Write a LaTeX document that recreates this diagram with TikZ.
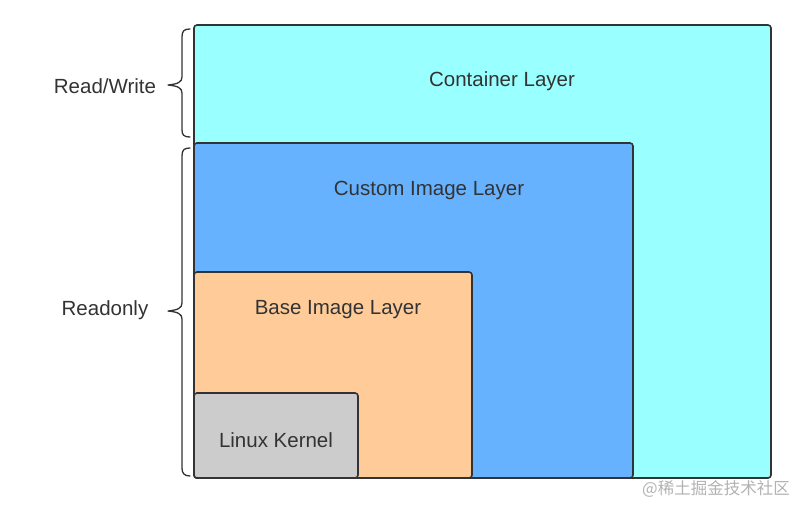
\documentclass[tikz,border=0pt]{standalone}
\usepackage{fontspec}
\setmainfont{Liberation Sans}
\newfontfamily\cjkfont{Noto Sans CJK SC}
\begin{document}
\begin{tikzpicture}[x=1pt,y=-1pt,
  layer/.style={draw=black!80, line width=1.6pt, rounded corners=3pt},
  lbl/.style={text=black!80, font=\fontsize{20.5}{22}\selectfont, inner sep=0pt},
  bracel/.style={draw=black!80, line width=1.3pt, line cap=round, line join=round}]
\useasboundingbox (0,0) rectangle (796,504);
\definecolor{ccyan}{HTML}{99FFFF}
\definecolor{cblue}{HTML}{66B2FF}
\definecolor{corange}{HTML}{FFCC99}
\definecolor{cgray}{HTML}{CCCCCC}
% layers
\path[layer, fill=ccyan] (194,25) rectangle (771,478);
\path[layer, fill=cblue] (194,143) rectangle (633,478);
\path[layer, fill=corange] (194,272) rectangle (472,478);
\path[layer, fill=cgray] (194,393) rectangle (358,478);
% labels
\node[lbl] (container) at (502,81) {Container Layer};
\node[lbl] (custom) at (429,190) {Custom Image Layer};
\node[lbl] (base) at (338,310) {Base Image Layer};
\node[lbl] (kernel) at (276,440) {Linux Kernel};
\node[lbl] (rw) at (105,86) {Read/Write};
\node[lbl] (ro) at (105,310) {Readonly};
% braces
\draw[bracel] (190,29) .. controls (184,29) and (182,31) .. (182,37)
  -- (182,77) .. controls (182,82) and (178,84) .. (168,85)
  .. controls (178,86) and (182,88) .. (182,93)
  -- (182,130) .. controls (182,135) and (184,137) .. (190,137);
\draw[bracel] (190,148) .. controls (184,148) and (182,150) .. (182,156)
  -- (182,303) .. controls (182,308) and (178,310) .. (168,311)
  .. controls (178,312) and (182,314) .. (182,319)
  -- (182,468) .. controls (182,473) and (184,476) .. (190,476);
% watermark
\node[text=black!30, font=\cjkfont\fontsize{16.5}{18}\selectfont, inner sep=0pt, anchor=east] (wm) at (790,489) {@稀土掘金技术社区};
\end{tikzpicture}
\end{document}
